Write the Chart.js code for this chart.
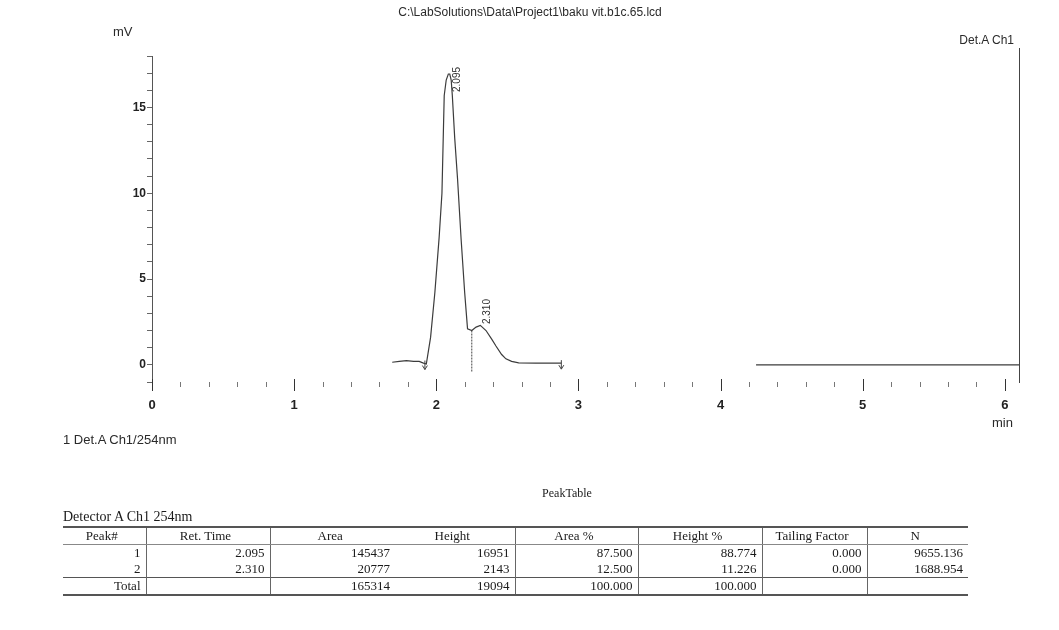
<!DOCTYPE html>
<html>
<head>
<meta charset="utf-8">
<script src="https://cdn.jsdelivr.net/npm/chart.js@4.4.1/dist/chart.umd.min.js"></script>
<style>
  body { margin: 0; background: #fff; }
  #wrap { position: relative; width: 1059px; height: 630px; overflow: hidden; }
  #myChart { position: absolute; left: 0; top: 0; }
  .lbl { position: absolute; font-family: "Liberation Sans", Arial, sans-serif; color: #2a2a2a; white-space: nowrap; }
  .serif { font-family: "Liberation Serif", "Times New Roman", serif; color: #1a1a1a; }
  #peakTable { position: absolute; left: 63px; top: 526px; border-collapse: collapse; font-family: "Liberation Serif", "Times New Roman", serif; font-size: 13px; color: #1a1a1a; }
  #peakTable td, #peakTable th { padding: 0 5px 0 0; height: 16px; line-height: 16px; border-left: 1px solid #666; font-weight: normal; }
  #peakTable th { text-align: center; border-bottom: 1px solid #888; }
  #peakTable td { text-align: right; }
  #peakTable tr > :first-child { border-left: none; }
  #peakTable .noline { border-left: none; }
  #peakTable thead tr { border-top: 2px solid #555; }
  #peakTable tr.total { border-top: 1px solid #555; border-bottom: 2px solid #555; }
</style>
</head>
<body>
<div id="wrap">
  <canvas id="myChart" width="1059" height="630"></canvas>
  <div class="lbl" style="left:0;width:1060px;text-align:center;top:5px;font-size:12px;">C:\LabSolutions\Data\Project1\baku vit.b1c.65.lcd</div>
  <div class="lbl" style="left:113px;top:24px;font-size:13px;">mV</div>
  <div class="lbl" style="right:45px;top:33px;font-size:12px;">Det.A Ch1</div>
  <div class="lbl" style="left:992px;top:415px;font-size:13px;">min</div>
  <div class="lbl" style="left:63px;top:432px;font-size:13px;">1 Det.A Ch1/254nm</div>
  <div class="lbl serif" style="left:0;width:1134px;text-align:center;top:486px;font-size:12px;">PeakTable</div>
  <div class="lbl serif" style="left:63px;top:509px;font-size:14px;">Detector A Ch1 254nm</div>
  <table id="peakTable"></table>
</div>
<script>
// chromatogram trace (min, mV)
const retTimes = [1.69, 1.74, 1.79, 1.84, 1.88, 1.91, 1.93, 1.96, 1.99, 2.02, 2.04, 2.056, 2.07, 2.085, 2.095, 2.105, 2.113, 2.13, 2.15, 2.175, 2.20, 2.22, 2.25, 2.28, 2.31, 2.35, 2.39, 2.42, 2.46, 2.49, 2.53, 2.58, 2.70, 2.88, null, 4.25, 6.1];
const signal   = [0.15, 0.2, 0.25, 0.2, 0.2, 0.1, 0.05, 1.6, 4.2, 7.4, 10.0, 15.7, 16.6, 16.95, 16.95, 16.6, 15.7, 13.2, 10.8, 7.3, 4.2, 2.1, 2.0, 2.2, 2.3, 2.0, 1.5, 1.1, 0.6, 0.35, 0.2, 0.12, 0.1, 0.1, null, 0.0, 0.0];

// peak table
const peakNo = ['1', '2'];
const peakRet = [2.095, 2.310];
const peakArea = [145437, 20777];
const peakHeight = [16951, 2143];
const areaPct = ['87.500', '12.500'];
const heightPct = ['88.774', '11.226'];
const tailing = ['0.000', '0.000'];
const plates = ['9655.136', '1688.954'];
const totalRow = ['Total', '', '165314', '19094', '100.000', '100.000', '', ''];
const tableHeads = ['Peak#', 'Ret. Time', 'Area', 'Height', 'Area %', 'Height %', 'Tailing Factor', 'N'];
const colWidths = [83, 124, 125, 120, 123, 124, 105, 101];

// integration marks: peak start/end and the split between peaks
const markTimes = [1.92, 2.88];
const splitTime = 2.25;

const points = retTimes.map((t, i) => ({ x: t, y: signal[i] }));

const buildTable = () => {
  const tbl = document.getElementById('peakTable');
  let html = '<colgroup>' + colWidths.map(w => `<col style="width:${w}px">`).join('') + '</colgroup>';
  html += '<thead><tr>' + tableHeads.map((h, i) => `<th${i === 3 ? ' class="noline"' : ''}>${h}</th>`).join('') + '</tr></thead><tbody>';
  for (let i = 0; i < peakNo.length; i++) {
    const row = [peakNo[i], peakRet[i].toFixed(3), peakArea[i], peakHeight[i], areaPct[i], heightPct[i], tailing[i], plates[i]];
    html += '<tr>' + row.map((v, j) => `<td${j === 3 ? ' class="noline"' : ''}>${v}</td>`).join('') + '</tr>';
  }
  html += '<tr class="total">' + totalRow.map((v, j) => `<td${j === 3 ? ' class="noline"' : ''}>${v}</td>`).join('') + '</tr></tbody>';
  tbl.innerHTML = html;
};
buildTable();

const signalAt = (t) => {
  for (let i = 0; i < retTimes.length - 1; i++) {
    const a = retTimes[i], b = retTimes[i + 1];
    if (a !== null && b !== null && t >= a && t <= b) {
      return signal[i] + (signal[i + 1] - signal[i]) * (t - a) / (b - a);
    }
  }
  return 0;
};

// extra drawing: frame line, x ticks, peak marks and labels
const overlayPlugin = {
  id: 'overlay',
  afterDatasetsDraw: (chart) => {
    const ctx = chart.ctx;
    const { top, bottom, right } = chart.chartArea;
    const xs = chart.scales.x, ys = chart.scales.y;
    ctx.save();
    ctx.strokeStyle = '#444';
    ctx.lineWidth = 1;
    ctx.beginPath();
    ctx.moveTo(right + 0.5, top - 8);
    ctx.lineTo(right + 0.5, bottom + 1);
    ctx.stroke();

    // x ticks (long at whole minutes)
    xs.ticks.forEach(tk => {
      const px = Math.round(xs.getPixelForValue(tk.value)) + 0.5;
      const major = Math.abs(tk.value - Math.round(tk.value)) < 1e-6;
      ctx.strokeStyle = major ? '#333' : '#777';
      ctx.beginPath();
      ctx.moveTo(px, major ? bottom - 3 : bottom);
      ctx.lineTo(px, major ? bottom + 9 : bottom + 5);
      ctx.stroke();
    });

    // start / end marks
    ctx.strokeStyle = '#444';
    markTimes.forEach(t => {
      const px = xs.getPixelForValue(t);
      const py = ys.getPixelForValue(signalAt(t));
      ctx.beginPath();
      ctx.moveTo(px, py - 3);
      ctx.lineTo(px, py + 6);
      ctx.moveTo(px - 2.5, py + 2);
      ctx.lineTo(px, py + 6);
      ctx.lineTo(px + 2.5, py + 2);
      ctx.stroke();
    });

    // split line between the two peaks
    const sx = xs.getPixelForValue(splitTime);
    ctx.setLineDash([2, 1]);
    ctx.beginPath();
    ctx.moveTo(sx, ys.getPixelForValue(signalAt(splitTime)));
    ctx.lineTo(sx, ys.getPixelForValue(-0.4));
    ctx.stroke();
    ctx.setLineDash([]);

    // retention time labels
    ctx.fillStyle = '#333';
    ctx.font = '10px "Liberation Sans", Arial, sans-serif';
    ctx.textBaseline = 'middle';
    ctx.textAlign = 'left';
    peakRet.forEach((t, i) => {
      const px = xs.getPixelForValue(t) + 7;
      const apex = ys.getPixelForValue(peakHeight[i] / 1000);
      const base = Math.max(apex - 4, top + 36);
      ctx.save();
      ctx.translate(px, base);
      ctx.rotate(-Math.PI / 2);
      ctx.fillText(t.toFixed(3), 0, 0);
      ctx.restore();
    });
    ctx.restore();
  }
};

const ctx = document.getElementById('myChart').getContext('2d');
const chart = new Chart(ctx, {
  type: 'line',
  data: {
    datasets: [{
      data: points,
      borderColor: '#3c3c3c',
      borderWidth: 1.2,
      pointRadius: 0,
      tension: 0,
      spanGaps: false,
      fill: false
    }]
  },
  options: {
    responsive: false,
    animation: false,
    layout: { padding: { top: 56, right: 40, left: 0, bottom: 0 } },
    plugins: {
      legend: { display: false },
      tooltip: { enabled: false }
    },
    scales: {
      x: {
        type: 'linear',
        min: 0,
        max: 6.1,
        border: { display: false },
        grid: { display: false },
        ticks: {
          stepSize: 0.2,
          autoSkip: false,
          includeBounds: false,
          maxRotation: 0,
          padding: 8,
          color: '#222',
          font: { family: '"Liberation Sans", Arial, sans-serif', size: 13, weight: 'bold' },
          callback: (v) => Math.abs(v - Math.round(v)) < 1e-6 ? String(Math.round(v)) : ''
        },
        afterFit: (scale) => { scale.height = 248; }
      },
      y: {
        min: -1,
        max: 18,
        border: { display: true, color: '#555', width: 1 },
        grid: { drawOnChartArea: false, drawTicks: true, tickLength: 5, color: '#666' },
        ticks: {
          stepSize: 1,
          autoSkip: false,
          includeBounds: false,
          padding: 1,
          color: '#222',
          font: { family: '"Liberation Sans", Arial, sans-serif', size: 12, weight: 'bold' },
          callback: (v) => v % 5 === 0 ? String(v) : ''
        },
        afterFit: (scale) => { scale.width = 152; }
      }
    }
  },
  plugins: [overlayPlugin]
});
</script>
</body>
</html>
